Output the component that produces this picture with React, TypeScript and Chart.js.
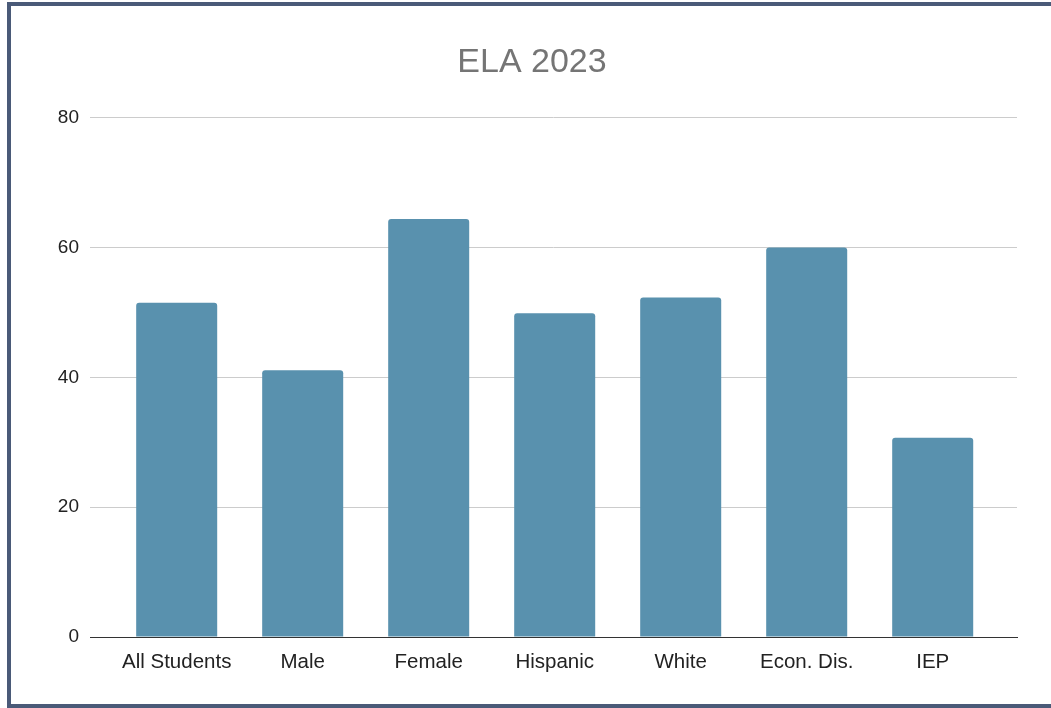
import React, { useEffect, useRef } from "react";
import { Chart, registerables } from "chart.js";

Chart.register(...registerables);

const categories = ["All Students", "Male", "Female", "Hispanic", "White", "Econ. Dis.", "IEP"];
const values = [51.5, 41.1, 64.4, 49.9, 52.3, 60.0, 30.7];
const yTicks = [0, 20, 40, 60, 80];
const chartTitle = "ELA 2023";

const FONT = "'Liberation Sans', Arial, sans-serif";

export default function App() {
  const ref = useRef<HTMLCanvasElement | null>(null);

  useEffect(() => {
    document.body.style.margin = "0";
    document.body.style.overflow = "hidden";
    const canvas = ref.current;
    if (!canvas) return;
    const chart = new Chart(canvas, {
      type: "bar",
      data: {
        labels: categories,
        datasets: [
          {
            data: values,
            backgroundColor: "#5991ae",
            borderWidth: 0,
            borderRadius: { topLeft: 3, topRight: 3, bottomLeft: 0, bottomRight: 0 },
            borderSkipped: "start",
            categoryPercentage: 0.643,
            barPercentage: 1,
          },
        ],
      },
      options: {
        responsive: false,
        animation: false,
        maintainAspectRatio: false,
        layout: { padding: { left: 36, right: 36, top: 0, bottom: 0 } },
        plugins: {
          legend: { display: false },
          tooltip: { enabled: false },
          title: {
            display: true,
            text: chartTitle,
            color: "#757575",
            font: { family: FONT, size: 34, weight: "normal" },
            padding: { top: 36, bottom: 35 },
          },
        },
        scales: {
          x: {
            offset: true,
            grid: { display: false, drawTicks: false },
            border: { display: true, color: "#333333", width: 1 },
            ticks: {
              color: "#222222",
              font: { family: FONT, size: 20.5 },
              padding: 13,
              maxRotation: 0,
              autoSkip: false,
            },
            afterBuildTicks: (scale: any) => {
              const padL = 0.188;
              const padR = 0.169;
              scale._startValue = -0.5 - padL;
              scale._valueRange = categories.length + padL + padR;
            },
            afterFit: (scale: any) => {
              scale.height = 67;
            },
          },
          y: {
            min: 0,
            max: 80,
            afterBuildTicks: (scale: any) => {
              scale.ticks = yTicks.map((v) => ({ value: v }));
            },
            grid: {
              color: "#cccccc",
              lineWidth: 1,
              drawTicks: false,
            },
            border: { display: false },
            ticks: {
              color: "#222222",
              font: { family: FONT, size: 19 },
              padding: 11,
            },
            afterFit: (scale: any) => {
              scale.width = 43;
            },
          },
        },
      },
    });
    return () => chart.destroy();
  }, []);

  return (
    <div style={{ position: "relative", width: 1051, height: 708, overflow: "hidden", background: "#fff" }}>
      <div
        style={{
          position: "absolute",
          left: 7,
          top: 2,
          width: 1060,
          height: 706,
          boxSizing: "border-box",
          border: "4px solid #4a5a78",
        }}
      />
      <canvas
        ref={ref}
        width={1042}
        height={698}
        style={{ position: "absolute", left: 11, top: 6, width: 1042, height: 698 }}
      />
    </div>
  );
}
